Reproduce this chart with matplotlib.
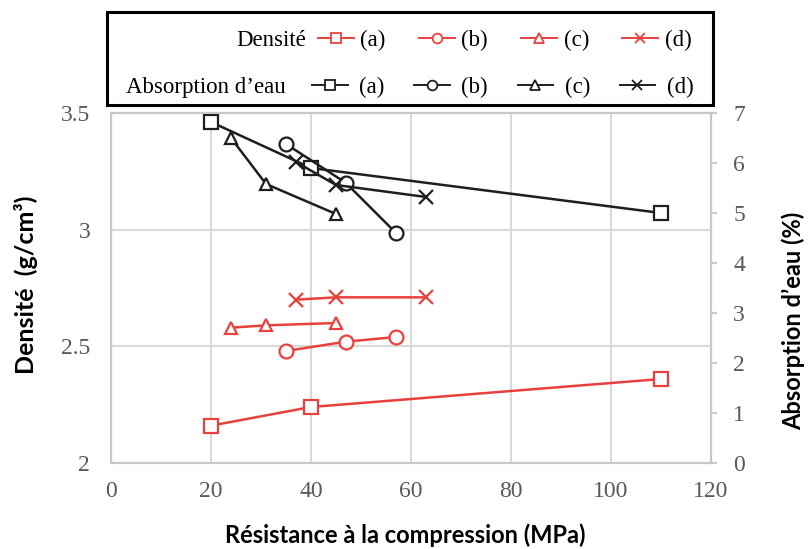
import matplotlib
matplotlib.use("Agg")
import matplotlib.pyplot as plt
from matplotlib.patches import Rectangle

# compressive strength (MPa) for each series
x_a = [20, 40, 110]
x_b = [35, 47, 57]
x_c = [24, 31, 45]
x_d = [37, 45, 63]

# density (g/cm3)
dens_a = [2.16, 2.24, 2.36]
dens_b = [2.48, 2.52, 2.54]
dens_c = [2.58, 2.59, 2.60]
dens_d = [2.70, 2.71, 2.71]

# water absorption (%)
abs_a = [6.82, 5.9, 5.0]
abs_b = [6.38, 5.6, 4.6]
abs_c = [6.5, 5.58, 4.98]
abs_d = [6.02, 5.56, 5.32]

series_labels = ["(a)", "(b)", "(c)", "(d)"]
markers = ["s", "o", "^", "x"]

RED = "#e8413d"
BLACK = "#1e1e1e"
GRID = "#d9d9d9"
TICK = "#595959"
SERIF = "Liberation Serif"
SANS = "Lato"

fig = plt.figure(figsize=(8.09, 5.49), dpi=100)
ax = fig.add_axes([111 / 809, 86 / 549, 600 / 809, 350 / 549])
ax2 = ax.twinx()

xs = [x_a, x_b, x_c, x_d]
red_lines = []
black_lines = []
for x, d, a, m in zip(xs, [dens_a, dens_b, dens_c, dens_d],
                      [abs_a, abs_b, abs_c, abs_d], markers):
    ms = 10 if m != "^" else 9
    ln, = ax.plot(x, d, color=RED, lw=1.8, marker=m, ms=ms,
                  mfc="white", mec=RED, mew=1.6)
    red_lines.append(ln)
    ln2, = ax2.plot(x, a, color=BLACK, lw=1.8, marker=m, ms=ms,
                    mfc="white", mec=BLACK, mew=1.6)
    black_lines.append(ln2)

ax.set_xlim(0, 120)
ax.set_ylim(2, 3.5)
ax2.set_ylim(0, 7)
ax.set_xticks(range(0, 121, 20))
ax.set_yticks([2, 2.5, 3, 3.5])
ax.set_yticklabels(["2", "2.5", "3", "3.5"])
ax2.set_yticks(range(0, 8))

ax.grid(True, color=GRID, lw=1.5)
ax.set_axisbelow(True)

for a in (ax, ax2):
    for s in a.spines.values():
        s.set_color("#c8c8c8")
        s.set_linewidth(1.5)

ax.tick_params(axis="x", length=0, pad=13, labelsize=17, labelcolor=TICK)
ax.tick_params(axis="y", length=0, pad=15, labelsize=17, labelcolor=TICK)
ax2.tick_params(axis="y", length=4, width=1.5, color="#c8c8c8", pad=12,
                labelsize=17, labelcolor=TICK)
for lab in ax.get_xticklabels() + ax.get_yticklabels() + ax2.get_yticklabels():
    lab.set_family(SERIF)

ax.set_xlabel("Résistance à la compression (MPa)", family=SANS,
              fontweight="bold", fontsize=17)
ax.xaxis.set_label_coords(0.49, -0.172)
ax.set_ylabel("Densité  (g/cm³)", family=SANS, fontweight="bold", fontsize=18)
ax.yaxis.set_label_coords(-0.122, 0.51)
ax2.set_ylabel("Absorption d’eau (%)", family=SANS, fontweight="bold",
               fontsize=17)
ax2.yaxis.set_label_coords(1.118, 0.405)

# legend box above the plot
fig.patches.append(Rectangle((107 / 809, 1 - 105 / 549), 606 / 809, 93 / 549,
                             transform=fig.transFigure, fill=False,
                             edgecolor="black", lw=2.2))
fig.text(306 / 809, 1 - 40 / 549, "Densité", ha="right", va="center",
         family=SERIF, fontsize=16.5)
fig.text(126 / 809, 1 - 87 / 549, "Absorption d’eau", ha="left", va="center",
         family=SERIF, fontsize=16.5)
leg1 = fig.legend(red_lines, series_labels, ncol=4, loc="center left",
                  bbox_to_anchor=(318 / 809, 1 - 40 / 549), frameon=False,
                  prop={"family": SERIF, "size": 16.5}, handlelength=1.55,
                  handletextpad=0.3, columnspacing=1.45, borderpad=0,
                  borderaxespad=0)
leg2 = fig.legend(black_lines, series_labels, ncol=4, loc="center left",
                  bbox_to_anchor=(312 / 809, 1 - 87 / 549), frameon=False,
                  prop={"family": SERIF, "size": 16.5}, handlelength=1.55,
                  handletextpad=0.5, columnspacing=1.3, borderpad=0,
                  borderaxespad=0)
for leg in (leg1, leg2):
    for h in leg.legend_handles:
        h.set_markersize(7)
        h.set_linewidth(1.4)
        h.set_markeredgewidth(1.3)

fig.savefig("out.png", dpi=100)
